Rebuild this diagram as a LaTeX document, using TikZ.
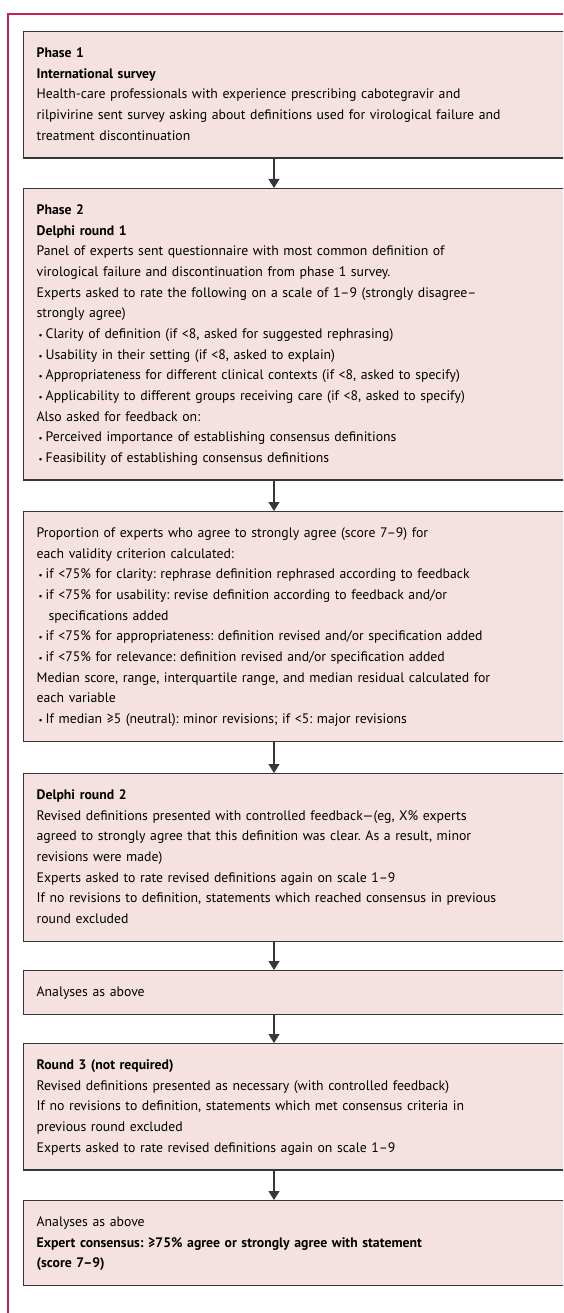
\documentclass[tikz,border=0pt]{standalone}
\usepackage{fontspec}
\setmainfont{PT Sans}
\usetikzlibrary{arrows.meta}
\frenchspacing
\definecolor{framecol}{RGB}{205,32,82}
\definecolor{boxfill}{RGB}{245,225,224}
\definecolor{boxline}{RGB}{55,55,55}
\newcommand{\bul}{\hspace*{2pt}{\small\textbullet}\hspace{3pt}}
\newcommand{\cont}{\hspace*{12pt}}
\tikzset{
  flowbox/.style={draw=boxline, line width=1.3pt, fill=boxfill, anchor=north west,
    text width=560pt, align=left, inner xsep=13pt, inner ysep=11.5pt,
    font=\fontsize{13.75}{20.65}\selectfont},
  flowarrow/.style={draw=boxline, line width=1.2pt, -{Triangle[width=11pt,length=9pt]}},
  outerframe/.style={draw=framecol, line width=1.2pt}
}
\begin{document}
\begin{tikzpicture}[x=1pt,y=-1pt]
\clip (0,0) rectangle (563,1313);
\useasboundingbox (0,0) rectangle (563,1313);
\fill[white] (0,0) rectangle (563,1313);
\draw[outerframe] (580,14) -| (8,1330);
\coordinate (ax) at (274,0);

\node[flowbox] (b1) at (23,31) {\strut\textbf{Phase 1}\\
\textbf{International survey}\\
Health-care professionals with experience prescribing cabotegravir and\\
rilpivirine sent survey asking about definitions used for virological failure and\\
treatment discontinuation\strut};

\node[flowbox] (b2) at (23,188) {\strut\textbf{Phase 2}\\
\textbf{Delphi round 1}\\
Panel of experts sent questionnaire with most common definition of\\
virological failure and discontinuation from phase 1 survey.\\
Experts asked to rate the following on a scale of 1–9 (strongly disagree–\\
strongly agree)\\
\bul Clarity of definition (if <8, asked for suggested rephrasing)\\
\bul Usability in their setting (if <8, asked to explain)\\
\bul Appropriateness for different clinical contexts (if <8, asked to specify)\\
\bul Applicability to different groups receiving care (if <8, asked to specify)\\
Also asked for feedback on:\\
\bul Perceived importance of establishing consensus definitions\\
\bul Feasibility of establishing consensus definitions\strut};

\node[flowbox] (b3) at (23,511) {\strut Proportion of experts who agree to strongly agree (score 7–9) for\\
each validity criterion calculated:\\
\bul if <75\% for clarity: rephrase definition rephrased according to feedback\\
\bul if <75\% for usability: revise definition according to feedback and/or\\
\cont specifications added\\
\bul if <75\% for appropriateness: definition revised and/or specification added\\
\bul if <75\% for relevance: definition revised and/or specification added\\
Median score, range, interquartile range, and median residual calculated for\\
each variable\\
\bul If median ≥5 (neutral): minor revisions; if <5: major revisions\strut};

\node[flowbox] (b4) at (23,773) {\strut\textbf{Delphi round 2}\\
Revised definitions presented with controlled feedback—(eg, X\% experts\\
agreed to strongly agree that this definition was clear. As a result, minor\\
revisions were made)\\
Experts asked to rate revised definitions again on scale 1–9\\
If no revisions to definition, statements which reached consensus in previous\\
round excluded\strut};

\node[flowbox] (b5) at (23,970) {\strut Analyses as above\strut};

\node[flowbox] (b6) at (23,1043) {\strut\textbf{Round 3 (not required)}\\
Revised definitions presented as necessary (with controlled feedback)\\
If no revisions to definition, statements which met consensus criteria in\\
previous round excluded\\
Experts asked to rate revised definitions again on scale 1–9\strut};

\node[flowbox] (b7) at (23,1200) {\strut Analyses as above\\
\textbf{Expert consensus: ≥75\% agree or strongly agree with statement}\\
\textbf{(score 7–9)}\strut};

\draw[flowarrow] (b1.south -| ax) -- (b2.north -| ax);
\draw[flowarrow] (b2.south -| ax) -- (b3.north -| ax);
\draw[flowarrow] (b3.south -| ax) -- (b4.north -| ax);
\draw[flowarrow] (b4.south -| ax) -- (b5.north -| ax);
\draw[flowarrow] (b5.south -| ax) -- (b6.north -| ax);
\draw[flowarrow] (b6.south -| ax) -- (b7.north -| ax);
\end{tikzpicture}
\end{document}
